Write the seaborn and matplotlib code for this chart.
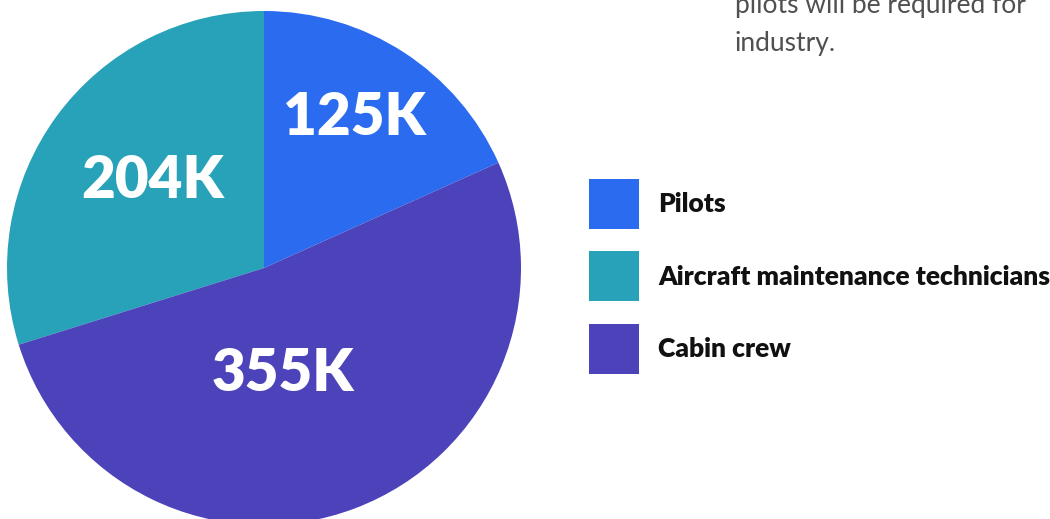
import matplotlib
matplotlib.use("Agg")
import matplotlib.pyplot as plt
import seaborn as sns

# Workforce demand by role (thousands)
roles = ["Pilots", "Aircraft maintenance technicians", "Cabin crew"]
demand_k = [125, 204, 355]
value_labels = ["125K", "204K", "355K"]
role_colors = ["#2B6BF0", "#28A2B8", "#4C42BA"]

sns.set_theme(style="white")
plt.rcParams["font.family"] = ["Lato", "DejaVu Sans"]

W, H, DPI = 1050, 519, 100
fig = plt.figure(figsize=(W / DPI, H / DPI), dpi=DPI)
fig.patch.set_facecolor("white")

# Pie axes: centre (264, 268) px, radius 257 px
cx, cy, r = 264, 268, 257
ax = fig.add_axes([(cx - r) / W, (H - cy - r) / H, 2 * r / W, 2 * r / H])
ax.set_aspect("equal")
ax.axis("off")

palette = sns.color_palette(role_colors)
total = sum(demand_k)
start = 90 - 360 * demand_k[0] / total  # Pilots end at 12 o'clock
wedges, _ = ax.pie(demand_k, colors=palette, startangle=start, counterclock=True,
                   radius=1, wedgeprops=dict(linewidth=0),
                   center=(0, 0), frame=False)
ax.set_xlim(-1, 1)
ax.set_ylim(-1, 1)

label_pos = [(0.35, 0.585), (-0.435, 0.34), (0.075, -0.41)]
for (x, y), txt in zip(label_pos, value_labels):
    ax.text(x, y, txt, ha="center", va="center", color="white",
            fontsize=42, fontweight="heavy")

# Legend with 50 px square swatches
fig.legend(wedges, roles, loc="upper left",
           bbox_to_anchor=(589 / W, (H - 179) / H), frameon=False,
           borderpad=0, borderaxespad=0,
           prop=dict(family=["Lato", "DejaVu Sans"], weight="heavy", size=19),
           handlelength=1.89, handleheight=2.54, handletextpad=0.72,
           labelspacing=0.85, labelcolor="#111111")

# Surrounding paragraph text
para_kw = dict(ha="left", va="baseline", fontsize=19, fontweight="normal",
               color="#505050")
fig.text(735 / W, (H - 13) / H, "pilots will be required for", **para_kw)
fig.text(735 / W, (H - 51) / H, "industry.", **para_kw)

fig.savefig("out.png", dpi=DPI, facecolor="white")
